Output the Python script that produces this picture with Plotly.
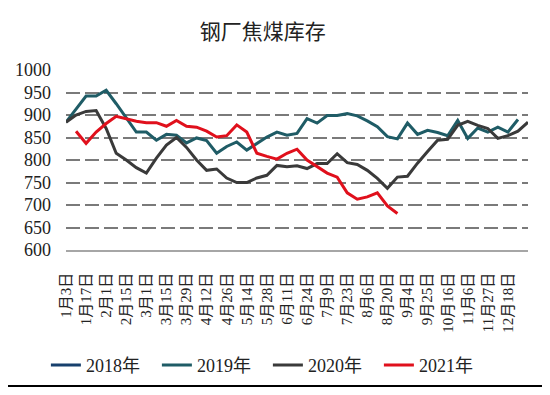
import plotly.graph_objects as go

categories = ["1月3日","1月10日","1月17日","1月24日","2月1日","2月8日","2月15日","2月22日",
              "3月1日","3月8日","3月15日","3月22日","3月29日","4月5日","4月12日","4月19日",
              "4月26日","5月7日","5月14日","5月21日","5月28日","6月4日","6月11日","6月18日",
              "6月24日","7月2日","7月9日","7月16日","7月23日","7月30日","8月6日","8月13日",
              "8月20日","8月27日","9月4日","9月15日","9月25日","10月9日","10月16日","10月29日",
              "11月6日","11月17日","11月27日","12月8日","12月18日","12月25日","12月31日"]
tick_labels = categories[0:45:2]

s2019 = [884, 912, 942, 942, 955, 925, 893, 862, 862, 844, 857, 855, 838, 849, 843, 815,
         830, 840, 822, 837, 851, 862, 855, 859, 892, 882, 899, 899, 903, 898, 887, 874,
         852, 847, 882, 857, 866, 861, 854, 888, 848, 871, 862, 873, 862, 890]
s2020 = [884, 900, 908, 910, 870, 815, 800, 783, 771, 804, 833, 850, 828, 800, 777, 780,
         760, 750, 750, 760, 766, 788, 785, 787, 781, 792, 792, 814, 794, 790, 777, 759,
         737, 762, 764, 793, 819, 844, 846, 877, 886, 877, 870, 848, 854, 864, 884]
s2021 = [None, 864, 837, 862, 881, 897, 892, 886, 883, 883, 875, 888, 875, 873, 864, 851,
         854, 878, 862, 815, 808, 802, 815, 824, 800, 786, 771, 762, 727, 713, 718, 727,
         698, 681]

series = [("2018年", [], "#17406d"),
          ("2019年", s2019, "#1f5c66"),
          ("2020年", s2020, "#3a3a3a"),
          ("2021年", s2021, "#e0101c")]

fig = go.Figure()
for name, vals, color in series:
    if vals:
        x = categories[:len(vals)]
        y = vals
    else:
        x, y = [None], [None]
    fig.add_trace(go.Scatter(x=x, y=y, name=name, mode="lines",
                             line=dict(color=color, width=3), connectgaps=False))

serif = "Liberation Serif, Noto Sans CJK SC, serif"
# page body has an 8px margin, so the figure is drawn 8px smaller and shifted
fig.update_layout(
    width=542, height=387,
    margin=dict(l=58, r=22, t=62, b=142),
    paper_bgcolor="white", plot_bgcolor="white",
    title=dict(text="钢厂焦煤库存", x=0.47, xanchor="center", y=0.938, yanchor="middle",
               font=dict(family="Noto Sans CJK SC", size=21, color="#222222"),
               automargin=False),
    showlegend=True,
    legend=dict(orientation="h", x=0.437, xanchor="center", y=-0.64, yanchor="middle",
                font=dict(family=serif, size=18, color="#222222"),
                tracegroupgap=0, entrywidth=66),
    xaxis=dict(type="category", categoryorder="array", categoryarray=categories,
               range=[0, 46], tickmode="array", tickvals=tick_labels, ticktext=tick_labels,
               tickangle=-90, tickfont=dict(family=serif, size=15, color="#222222"),
               showgrid=False, showline=True, linecolor="#a6a6a6", linewidth=1.5,
               ticks="", zeroline=False, ticklabelstandoff=15, automargin=False),
    yaxis=dict(range=[600, 1000], dtick=50, tick0=600,
               tickfont=dict(family=serif, size=18, color="#222222"),
               showgrid=True, gridcolor="#7a7a7a", gridwidth=2, griddash="14px,5px",
               zeroline=False, showline=False, ticks="", ticklabelstandoff=14,
               automargin=False),
    shapes=[dict(type="line", xref="paper", yref="paper", x0=-0.15, x1=1.06,
                 y0=-0.755, y1=-0.755, line=dict(color="black", width=2))],
)

fig.write_html("out.html")
